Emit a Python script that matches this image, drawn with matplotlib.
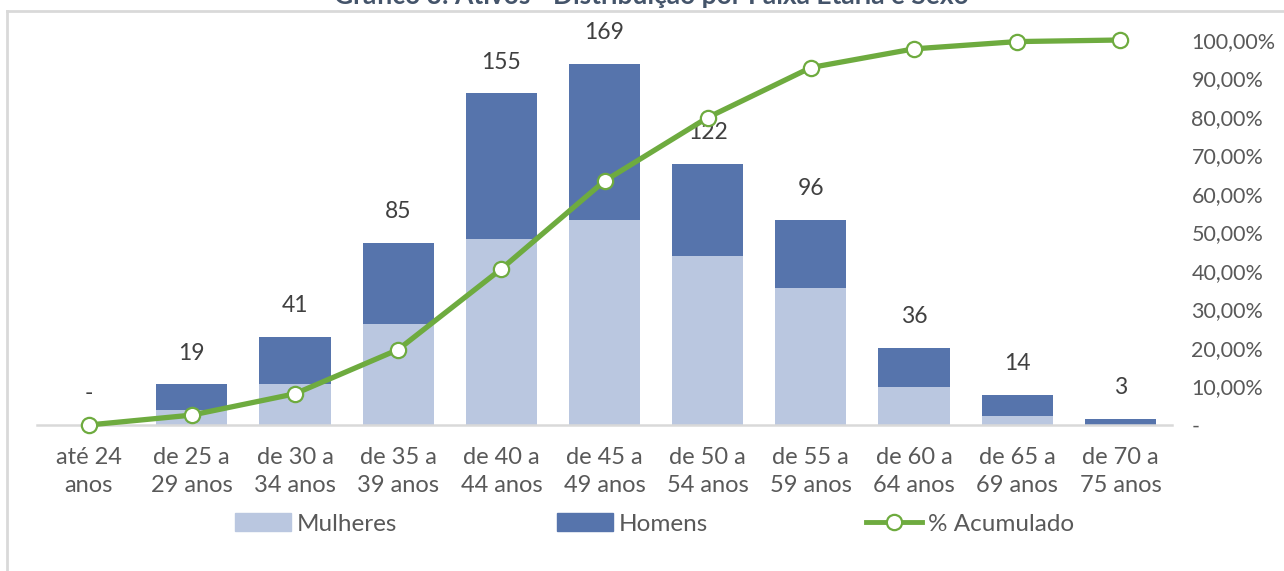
import matplotlib.pyplot as plt
from matplotlib.lines import Line2D
from matplotlib.patches import Rectangle

plt.rcParams['font.family'] = ['Lato', 'DejaVu Sans']

# data
faixas = ['até 24\nanos', 'de 25 a\n29 anos', 'de 30 a\n34 anos', 'de 35 a\n39 anos',
          'de 40 a\n44 anos', 'de 45 a\n49 anos', 'de 50 a\n54 anos', 'de 55 a\n59 anos',
          'de 60 a\n64 anos', 'de 65 a\n69 anos', 'de 70 a\n75 anos']
mulheres = [0, 7, 19, 47, 87, 96, 79, 64, 18, 4, 0]
homens = [0, 12, 22, 38, 68, 73, 43, 32, 18, 10, 3]
totais = [0, 19, 41, 85, 155, 169, 122, 96, 36, 14, 3]
acumulado = [0, 2.57, 8.11, 19.59, 40.54, 63.38, 79.86, 92.84, 97.70, 99.59, 100.0]
pct_ticks = [0, 10, 20, 30, 40, 50, 60, 70, 80, 90, 100]

cor_mulheres = '#BAC7E0'
cor_homens = '#5674AC'
cor_linha = '#6EAB3F'
cinza = '#595959'

fig = plt.figure(figsize=(12.84, 5.71), dpi=100)
ax = fig.add_axes([37 / 1284, 1 - 425 / 571, (1172 - 37) / 1284, (425 - 40) / 571])
x = list(range(len(faixas)))

ax.bar(x, mulheres, width=0.69, color=cor_mulheres, zorder=2)
ax.bar(x, homens, width=0.69, bottom=mulheres, color=cor_homens, zorder=2)
for i, t in enumerate(totais):
    ax.annotate(str(t) if t else '-', (i, t), xytext=(0, 15), textcoords='offset points',
                ha='center', va='bottom', fontsize=16.5, color='#404040', annotation_clip=False)

ax.set_xlim(-0.5, len(faixas) - 0.5)
ax.set_ylim(0, 180)
ax.set_yticks([])
for s in ['top', 'right', 'left']:
    ax.spines[s].set_visible(False)
ax.spines['bottom'].set_color('#D9D9D9')
ax.spines['bottom'].set_linewidth(1.8)
ax.set_xticks(x)
ax.set_xticklabels(faixas, fontsize=17, color=cinza, linespacing=1.42)
ax.tick_params(axis='x', length=0, pad=16)

ax2 = ax.twinx()
ax2.plot(x, acumulado, color=cor_linha, lw=3.8, marker='o', ms=11,
         mfc='white', mec=cor_linha, mew=1.6, zorder=5, clip_on=False)
ax2.set_ylim(0, 100)
ax2.set_yticks(pct_ticks)
ax2.set_yticklabels(['-'] + ['%d,00%%' % p for p in pct_ticks[1:]], fontsize=15.5, color=cinza)
ax2.tick_params(axis='y', length=0, pad=14)
for s in ax2.spines.values():
    s.set_visible(False)
ax2.set_zorder(ax.get_zorder() + 1)

# chart frame and the cut-off title
fig.add_artist(Line2D([7 / 1284, 1], [1 - 11 / 571] * 2, color='#D9D9D9', lw=2))
fig.add_artist(Line2D([7 / 1284] * 2, [0, 1 - 11 / 571], color='#D9D9D9', lw=2))
fig.text(0.507, 1 - 4 / 571, 'Gráfico 3: Ativos - Distribuição por Faixa Etária e Sexo',
         ha='center', va='baseline', fontsize=19, fontweight='bold', color='#44546A')

# legend entries placed one by one, as in the reference
entradas = [
    (Rectangle((0, 0), 1, 1, color=cor_mulheres), 'Mulheres', 235),
    (Rectangle((0, 0), 1, 1, color=cor_homens), 'Homens', 557),
    (Line2D([], [], color=cor_linha, lw=3.5, marker='o', ms=11, mfc='white',
            mec=cor_linha, mew=1.6), '% Acumulado', 866),
]
for h, nome, xpos in entradas:
    leg = fig.legend([h], [nome], loc='center left', bbox_to_anchor=(xpos / 1284, 1 - 524 / 571),
                     frameon=False, fontsize=17.5, labelcolor=cinza, handlelength=2.3,
                     handletextpad=0.25, borderpad=0, borderaxespad=0)

fig.savefig('out.png', dpi=100)
